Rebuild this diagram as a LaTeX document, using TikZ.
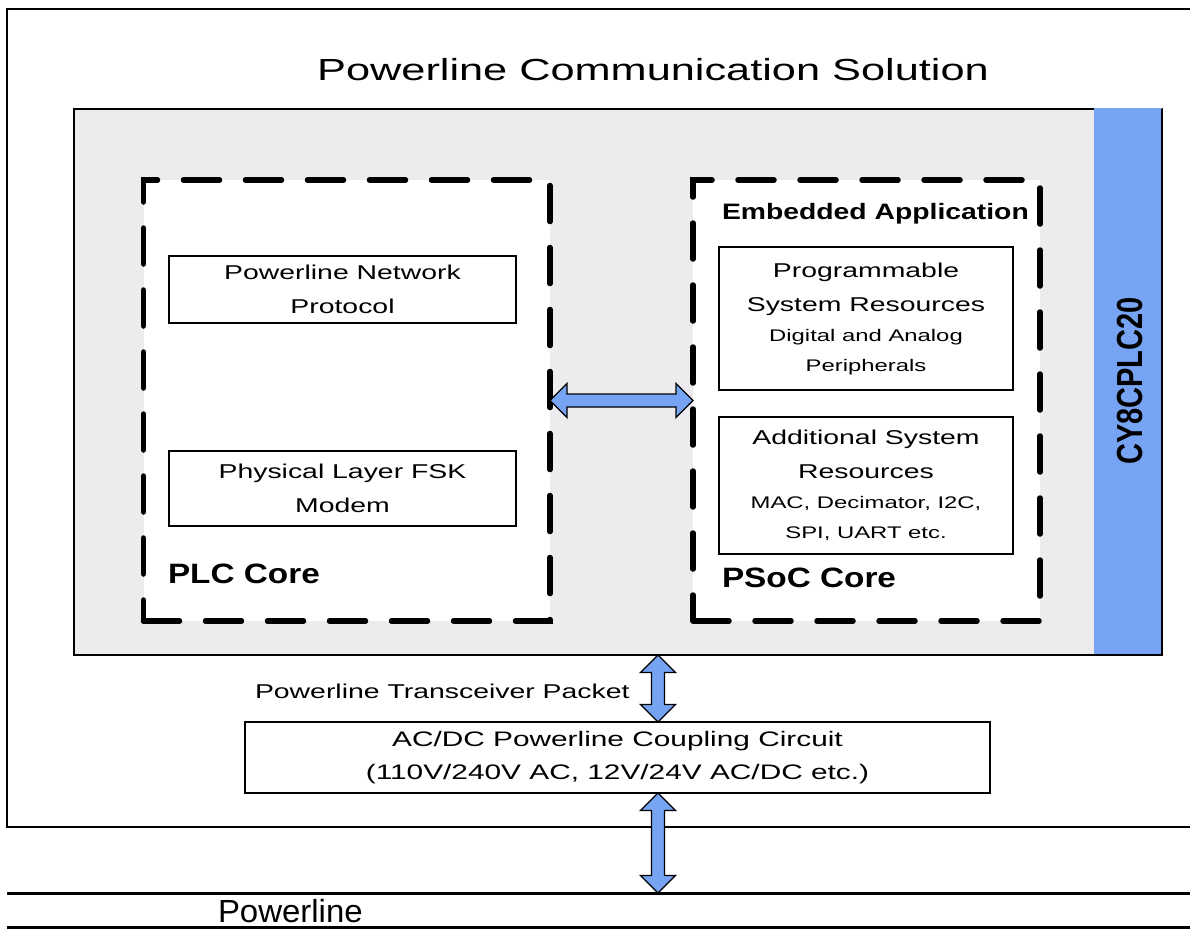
\documentclass[tikz,border=0pt]{standalone}
\usepackage{fontspec}
\setmainfont{Liberation Sans}
\newfontfamily\fR{Liberation Sans}[FakeStretch=1.42]
\newfontfamily\fB{Liberation Sans}[FakeStretch=1.19]
\newfontfamily\fE{Liberation Sans}[FakeStretch=1.27]
\newfontfamily\fP{Liberation Sans}[FakeStretch=1.03]
\usetikzlibrary{calc}
\definecolor{greybg}{RGB}{238,235,238}
\definecolor{chipblue}{RGB}{118,164,242}
\newcommand{\smallline}{\fontsize{16.8}{30}\selectfont}
% horizontal double block arrow between two named points
\newcommand{\harrowpath}[2]{%
  \draw[barrow] (#1) -- ([shift={(17,-17)}]#1) -- ([shift={(17,-6.5)}]#1)
    -- ([shift={(-17,-6.5)}]#2) -- ([shift={(-17,-17)}]#2) -- (#2)
    -- ([shift={(-17,17)}]#2) -- ([shift={(-17,6.5)}]#2)
    -- ([shift={(17,6.5)}]#1) -- ([shift={(17,17)}]#1) -- cycle;}
% vertical double block arrow between two named points
\newcommand{\varrowpath}[2]{%
  \draw[barrow] (#1) -- ([shift={(17.5,17.5)}]#1) -- ([shift={(6.5,17.5)}]#1)
    -- ([shift={(6.5,-17.5)}]#2) -- ([shift={(17.5,-17.5)}]#2) -- (#2)
    -- ([shift={(-17.5,-17.5)}]#2) -- ([shift={(-6.5,-17.5)}]#2)
    -- ([shift={(-6.5,17.5)}]#1) -- ([shift={(-17.5,17.5)}]#1) -- cycle;}
\begin{document}
\begin{tikzpicture}[x=1pt,y=-1pt,
  barrow/.style={fill=chipblue, draw=black, line width=1.3, line join=miter},
  greybox/.style={draw, fill=greybg, line width=2.5, outer sep=0, inner sep=0},
  dbox/.style={draw, fill=white, line width=5.5, dash pattern=on 36pt off 26pt,
    line cap=round, outer sep=0, inner sep=0},
  ibox/.style={draw, fill=white, line width=1.5, outer sep=0, inner sep=0,
    align=center, font=\fR\fontsize{20}{30}\selectfont},
  txt/.style={inner sep=0, outer sep=0, font=\fR\fontsize{20}{30}\selectfont},
  blabel/.style={inner sep=0, outer sep=0, font=\fB\bfseries\fontsize{28}{30}\selectfont},
  elabel/.style={inner sep=0, outer sep=0, font=\fE\bfseries\fontsize{22.3}{26}\selectfont},
  titlefont/.style={inner sep=0, outer sep=0, font=\fR\fontsize{30.5}{36}\selectfont},
  plinefont/.style={inner sep=0, outer sep=0, font=\fP\fontsize{32}{36}\selectfont}
]
\useasboundingbox (0,0) rectangle (1190,930);
\fill[white] (0,0) rectangle (1190,930);

% outer frame (open to the right edge)
\coordinate (ofA) at (1200,9);
\coordinate (ofB) at (7,9);
\coordinate (ofC) at (7,827);
\coordinate (ofD) at (1200,827);
\draw[line width=1.8] (ofA) -- (ofB) -- (ofC) -- (ofD);

% title
\node[titlefont, anchor=base] (title) at (653,80) {Powerline Communication Solution};

% grey chip box
\node[greybox, minimum width=1088, minimum height=546] (grey) at (618,382) {};
\fill[chipblue] (1094,107.5) rectangle (1162,653.8);
\draw[line width=2.5] (grey.north east) -- (grey.south east);
\node[rotate=90, inner sep=0, font=\bfseries\fontsize{29}{30}\selectfont] (chip) at (1130,381)
  {\scalebox{1}[1.25]{CY8CPLC20}};

% cores
\node[dbox, minimum width=406.5, minimum height=441] (plc) at (346.75,400.5) {};
\node[dbox, minimum width=347, minimum height=441] (psoc) at (866.5,400.5) {};

% PLC core contents
\node[ibox, minimum width=347, minimum height=67] (pnp) at (342.5,289.5)
  {Powerline Network\\[4pt]Protocol};
\node[ibox, minimum width=347, minimum height=75] (phy) at (342.5,488.5)
  {Physical Layer FSK\\[4pt]Modem};
\node[blabel, anchor=base west] (plcl) at (168,583) {PLC Core};

% PSoC core contents
\node[elabel, anchor=base west] (embl) at (722,219) {Embedded Application};
\node[ibox, minimum width=294, minimum height=143] (prog) at (866,318.5)
  {Programmable\\[4pt]System Resources\\
   \smallline Digital and Analog\\
   \smallline Peripherals};
\node[ibox, minimum width=294, minimum height=137] (addl) at (866,485.5)
  {Additional System\\[4pt]Resources\\
   \smallline MAC, Decimator, I2C,\\
   \smallline SPI, UART etc.};
\node[blabel, anchor=base west] (psocl) at (722,587) {PSoC Core};

% coupling circuit
\node[ibox, minimum width=745, minimum height=71, font=\fR\fontsize{21}{33}\selectfont] (coup) at (617.5,757.5)
  {AC/DC Powerline Coupling Circuit\\(110V/240V AC, 12V/24V AC/DC etc.)};
\node[txt, anchor=base west] (ptp) at (255,698) {Powerline Transceiver Packet};

% powerline
\coordinate (pl1w) at (7,893);
\coordinate (pl1e) at (1200,893);
\coordinate (pl2w) at (7,927);
\coordinate (pl2e) at (1200,927);
\draw[line width=3] (pl1w) -- (pl1e);
\draw[line width=3] (pl2w) -- (pl2e);
\node[plinefont, anchor=base west] (pll) at (218,922) {Powerline};

% arrows
\harrowpath{plc.east}{psoc.west}
\coordinate (ax) at (658,0);
\coordinate (a1t) at (ax |- grey.south);
\coordinate (a1b) at (ax |- coup.north);
\coordinate (a2t) at (ax |- coup.south);
\coordinate (a2b) at (ax |- pl1w);
\varrowpath{a1t}{a1b}
\varrowpath{a2t}{a2b}
\end{tikzpicture}
\end{document}
